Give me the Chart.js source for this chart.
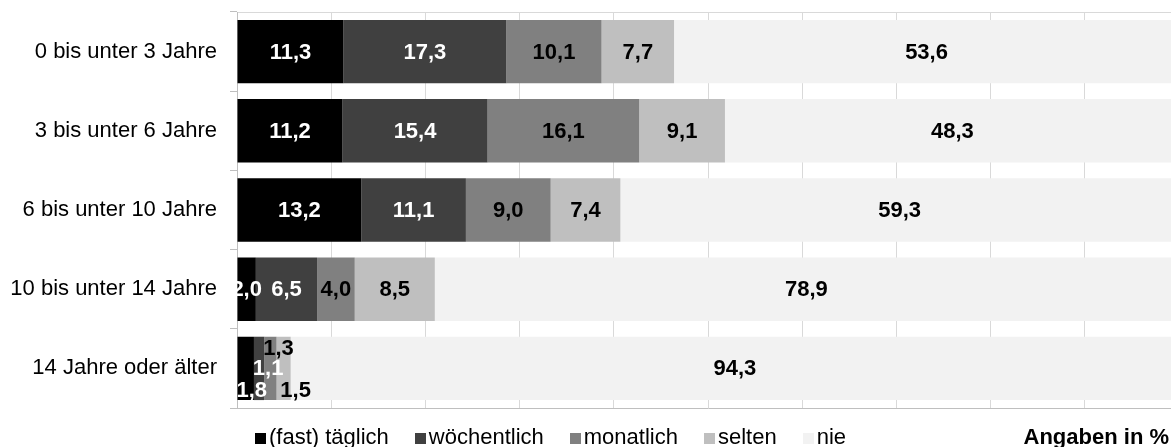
<!DOCTYPE html>
<html lang="de">
<head>
<meta charset="utf-8">
<title>Häufigkeit nach Alter</title>
<script src="https://cdn.jsdelivr.net/npm/chart.js@4/dist/chart.umd.min.js"></script>
<style>
  html, body { margin: 0; padding: 0; background: #fff; overflow: hidden; }
  #wrap { position: relative; width: 1171px; height: 447px; overflow: hidden; }
  #chartCanvas { position: absolute; left: 0; top: 0; }
  .legend {
    position: absolute; left: 255px; top: 426px;
    font: 22px "Liberation Sans", Arial, sans-serif; line-height: 22px;
    display: flex; white-space: nowrap; color: #000;
  }
  .legend span.item { display: flex; align-items: center; margin-right: 26px; }
  .legend i { display: inline-block; width: 11px; height: 11px; margin-right: 3px; margin-top: 3px; }
  .unit {
    position: absolute; right: 2px; top: 426px;
    font: bold 22px "Liberation Sans", Arial, sans-serif; line-height: 22px;
    white-space: nowrap; color: #000;
  }
</style>
</head>
<body>
<div id="wrap">
  <canvas id="chartCanvas" width="1180" height="447"></canvas>
  <div class="legend" id="legend"></div>
  <div class="unit">Angaben in %</div>
</div>
<script>
// categories and series
const categories = ['0 bis unter 3 Jahre', '3 bis unter 6 Jahre', '6 bis unter 10 Jahre', '10 bis unter 14 Jahre', '14 Jahre oder älter'];
const seriesNames = ['(fast) täglich', 'wöchentlich', 'monatlich', 'selten', 'nie'];
const taeglich    = [11.3, 11.2, 13.2, 2.0, 1.8];
const woechentlich = [17.3, 15.4, 11.1, 6.5, 1.1];
const monatlich   = [10.1, 16.1, 9.0, 4.0, 1.3];
const selten      = [7.7, 9.1, 7.4, 8.5, 1.5];
const nie         = [53.6, 48.3, 59.3, 78.9, 94.3];
const xTicks = [0, 10, 20, 30, 40, 50, 60, 70, 80, 90, 100];

const colors = ['#000000', '#404040', '#808080', '#bfbfbf', '#f2f2f2'];
const labelColors = ['#ffffff', '#ffffff', '#000000', '#000000', '#000000'];
const FONT = '"Liberation Sans", Arial, sans-serif';

// labels of the last (very thin) bar are nudged apart, like in the original
const labelShift = { '0-4': [6, 22], '1-4': [9, 0], '2-4': [8, -20], '3-4': [12, 22] };

const fmt = v => v.toFixed(1).replace('.', ',');

const valueLabels = {
  id: 'valueLabels',
  afterDatasetsDraw(chart) {
    const { ctx, chartArea } = chart;
    ctx.save();
    ctx.beginPath();
    ctx.rect(chartArea.left, chartArea.top, chartArea.right - chartArea.left, chartArea.bottom - chartArea.top);
    ctx.clip();
    ctx.font = 'bold 22px ' + FONT;
    ctx.textAlign = 'center';
    ctx.textBaseline = 'middle';
    chart.data.datasets.forEach((ds, di) => {
      const meta = chart.getDatasetMeta(di);
      meta.data.forEach((bar, i) => {
        const shift = labelShift[di + '-' + i] || [0, 0];
        const cx = (bar.x + bar.base) / 2 + shift[0];
        const cy = bar.y + shift[1] + 1;
        ctx.fillStyle = labelColors[di];
        ctx.fillText(fmt(ds.data[i]), cx, cy);
      });
    });
    ctx.restore();
  }
};

const allValues = [taeglich, woechentlich, monatlich, selten, nie];

new Chart(document.getElementById('chartCanvas'), {
  type: 'bar',
  data: {
    labels: categories,
    datasets: seriesNames.map((name, k) => ({
      label: name,
      data: allValues[k],
      backgroundColor: colors[k],
      borderWidth: 0,
      barPercentage: 0.8,
      categoryPercentage: 1.0
    }))
  },
  options: {
    indexAxis: 'y',
    responsive: false,
    animation: false,
    layout: { padding: { left: 10, top: 12, bottom: 39, right: 1 } },
    plugins: {
      legend: { display: false },
      tooltip: { enabled: false }
    },
    scales: {
      x: {
        stacked: true,
        min: xTicks[0],
        max: xTicks[xTicks.length - 1],
        afterBuildTicks: axis => { axis.ticks = xTicks.map(v => ({ value: v })); },
        afterFit: axis => { axis.height = 0; axis.paddingLeft = 0; axis.paddingRight = 0; },
        ticks: { display: false },
        grid: { color: '#d9d9d9', drawTicks: false },
        border: { color: '#bfbfbf' }
      },
      xTop: {
        axis: 'x',
        position: 'top',
        min: 0,
        max: 100,
        afterFit: axis => { axis.height = 0; axis.paddingLeft = 0; axis.paddingRight = 0; },
        ticks: { display: false },
        grid: { display: false },
        border: { display: true, color: '#d9d9d9' }
      },
      y: {
        stacked: true,
        afterFit: axis => { axis.width = 227; axis.paddingTop = 0; axis.paddingBottom = 0; },
        ticks: { color: '#000', font: { family: FONT, size: 22 }, padding: 13 },
        grid: { offset: true, drawOnChartArea: false, drawTicks: true, tickLength: 7, color: '#bfbfbf' },
        border: { color: '#bfbfbf' }
      }
    }
  },
  plugins: [valueLabels]
});

// legend row
const legend = document.getElementById('legend');
seriesNames.forEach((name, k) => {
  const item = document.createElement('span');
  item.className = 'item';
  item.innerHTML = `<i style="background:${colors[k]}"></i>${name}`;
  legend.appendChild(item);
});
</script>
</body>
</html>
